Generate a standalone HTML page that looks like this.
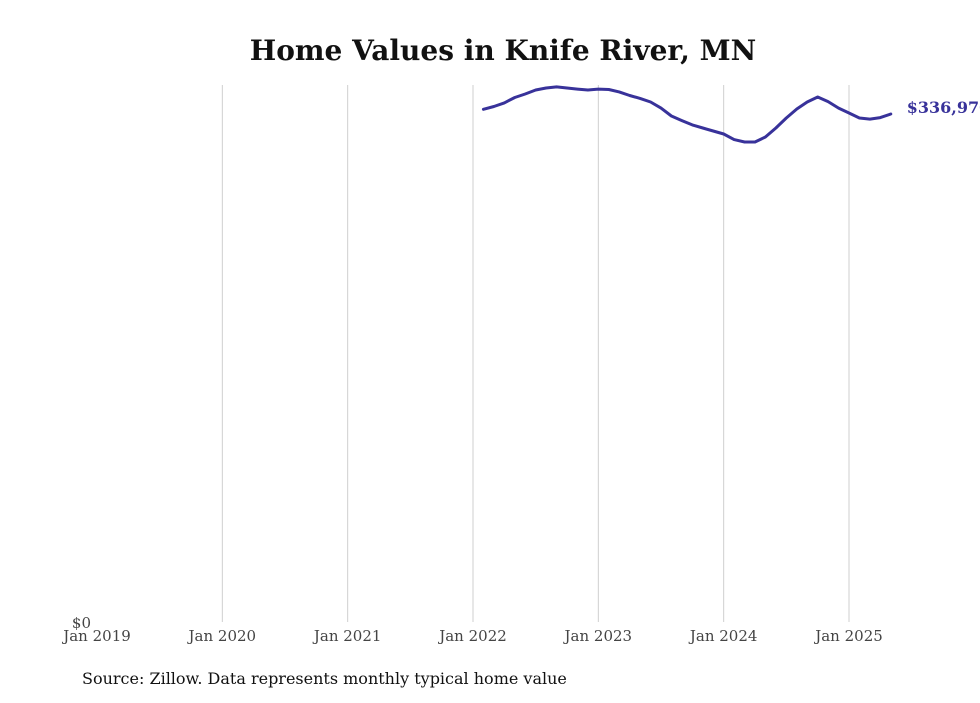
<!DOCTYPE html>
<html><head><meta charset="utf-8"><style>
html,body{margin:0;padding:0;background:#fff;}
body{width:980px;height:699px;overflow:hidden;font-family:"DejaVu Serif","Liberation Serif",serif;}
</style></head><body>
<svg id="chart" width="980" height="699" xmlns="http://www.w3.org/2000/svg">
<text x="503" y="60" text-anchor="middle" font-family="DejaVu Serif, Liberation Serif, serif" font-weight="bold" font-size="28" fill="#111">Home Values in Knife River, MN</text>
<g id="grid"></g>
<g id="xticks"></g>
<text x="91" y="628" text-anchor="end" font-size="15" fill="#444">$0</text>
<g id="series"></g>
<text x="82" y="684" font-size="16" fill="#111">Source: Zillow. Data represents monthly typical home value</text>
</svg>
<script>
const tickLabels = ["Jan 2019","Jan 2020","Jan 2021","Jan 2022","Jan 2023","Jan 2024","Jan 2025"];
const startMonth = 37; // months since Jan 2019 (Feb 2022)
const values = [340100,341900,344300,347900,350200,352900,354200,354900,354200,353500,352900,353500,353200,351600,349200,347300,344900,340900,335600,332600,329700,327700,325700,323700,320000,318400,318400,321700,327700,334300,340300,344900,348200,345200,340900,337600,334300,333600,334600,336970];
const lastLabel = "$336,970";
const NS="http://www.w3.org/2000/svg";
const x = m => 97 + m * (752/72);
const y = v => 622 - v / 663.3;
const grid=document.getElementById('grid'), xt=document.getElementById('xticks'), s=document.getElementById('series');
tickLabels.forEach((t,i)=>{
  const xx=x(i*12);
  if(i>0){
    const l=document.createElementNS(NS,'line');
    
    
    l.setAttribute('x1',xx);l.setAttribute('x2',xx);l.setAttribute('y1',85);l.setAttribute('y2',622);
    l.setAttribute('stroke','#cfcfcf');l.setAttribute('stroke-width','1');
    grid.appendChild(l);
  }
  const tx=document.createElementNS(NS,'text');
  
  
  tx.setAttribute('x',xx);tx.setAttribute('y',641);tx.setAttribute('text-anchor','middle');
  tx.setAttribute('font-size','15');tx.setAttribute('fill','#444');
  tx.textContent=t;xt.appendChild(tx);
});
const d=values.map((v,i)=>(i?'L':'M')+x(startMonth+i).toFixed(1)+','+y(v).toFixed(1)).join(' ');
const p=document.createElementNS(NS,'path');


p.setAttribute('d',d);p.setAttribute('fill','none');p.setAttribute('stroke','#38329a');
p.setAttribute('stroke-width','3');p.setAttribute('stroke-linejoin','round');p.setAttribute('stroke-linecap','round');
s.appendChild(p);
const lv=values[values.length-1];
const lt=document.createElementNS(NS,'text');


lt.setAttribute('x',x(startMonth+values.length-1)+16);lt.setAttribute('y',y(lv)-1);
lt.setAttribute('font-size','16');lt.setAttribute('font-weight','bold');lt.setAttribute('fill','#38329a');
lt.textContent=lastLabel;s.appendChild(lt);
</script>
</body></html>
